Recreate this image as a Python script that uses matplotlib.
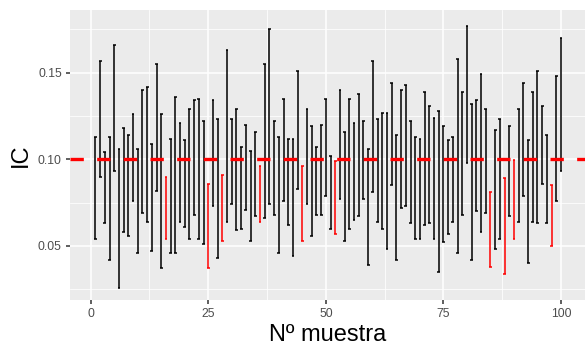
import matplotlib.pyplot as plt
from matplotlib.ticker import MultipleLocator

plt.rcParams['font.family'] = ['Liberation Sans', 'DejaVu Sans']

# Datos: intervalos de confianza de 100 muestras
muestra = list(range(1, 101))
ic_inf = [0.054, 0.090, 0.063, 0.042, 0.093, 0.026, 0.058, 0.056, 0.076, 0.046,
          0.069, 0.064, 0.047, 0.082, 0.037, 0.054, 0.046, 0.046, 0.064, 0.061,
          0.054, 0.068, 0.054, 0.051, 0.037, 0.073, 0.043, 0.053, 0.064, 0.074,
          0.059, 0.060, 0.071, 0.053, 0.067, 0.064, 0.066, 0.074, 0.068, 0.046,
          0.076, 0.062, 0.044, 0.083, 0.053, 0.074, 0.056, 0.068, 0.068, 0.079,
          0.060, 0.057, 0.077, 0.053, 0.060, 0.065, 0.067, 0.077, 0.039, 0.081,
          0.064, 0.060, 0.048, 0.085, 0.042, 0.072, 0.073, 0.063, 0.054, 0.054,
          0.062, 0.063, 0.054, 0.035, 0.052, 0.057, 0.064, 0.046, 0.068, 0.098,
          0.042, 0.070, 0.058, 0.069, 0.038, 0.048, 0.054, 0.034, 0.067, 0.054,
          0.064, 0.079, 0.040, 0.064, 0.063, 0.086, 0.063, 0.050, 0.076, 0.093]
ic_sup = [0.113, 0.157, 0.104, 0.113, 0.166, 0.106, 0.118, 0.114, 0.126, 0.106,
          0.140, 0.142, 0.109, 0.155, 0.126, 0.090, 0.112, 0.136, 0.121, 0.111,
          0.129, 0.134, 0.135, 0.122, 0.086, 0.134, 0.123, 0.091, 0.163, 0.123,
          0.129, 0.107, 0.120, 0.105, 0.116, 0.096, 0.155, 0.175, 0.122, 0.113,
          0.135, 0.112, 0.112, 0.151, 0.096, 0.129, 0.119, 0.107, 0.120, 0.135,
          0.102, 0.099, 0.140, 0.116, 0.135, 0.121, 0.138, 0.122, 0.106, 0.157,
          0.123, 0.127, 0.127, 0.144, 0.114, 0.140, 0.143, 0.122, 0.113, 0.112,
          0.139, 0.131, 0.124, 0.128, 0.119, 0.111, 0.113, 0.158, 0.139, 0.177,
          0.132, 0.134, 0.149, 0.129, 0.081, 0.117, 0.123, 0.089, 0.119, 0.0994,
          0.129, 0.144, 0.111, 0.139, 0.151, 0.131, 0.114, 0.085, 0.148, 0.170]
p = 0.10

fig = plt.figure(figsize=(5.85, 3.45), dpi=100)
ax = fig.add_axes([70/585, 45/345, 515/585, 290/345])
ax.set_facecolor('#EBEBEB')
for s in ax.spines.values():
    s.set_visible(False)

# Rojo si el intervalo no contiene p
colores = ['black' if a <= p <= b else 'red' for a, b in zip(ic_inf, ic_sup)]
izq = [m - 0.3 for m in muestra]
der = [m + 0.3 for m in muestra]
ax.vlines(muestra, ic_inf, ic_sup, colors=colores, linewidth=1.1, zorder=3)
ax.hlines(ic_inf, izq, der, colors=colores, linewidth=1.1, zorder=3)
ax.hlines(ic_sup, izq, der, colors=colores, linewidth=1.1, zorder=3)
ax.axhline(p, color='red', linewidth=2.4, linestyle=(0, (4, 4)), zorder=4)

ax.set_xlim(-4.4, 105.1)
ax.set_ylim(0.0188, 0.1862)
ax.set_xticks([0, 25, 50, 75, 100])
ax.set_yticks([0.05, 0.10, 0.15])
ax.set_yticklabels(['0.05', '0.10', '0.15'])
ax.xaxis.set_minor_locator(MultipleLocator(12.5))
ax.yaxis.set_minor_locator(MultipleLocator(0.025))
ax.grid(which='major', color='white', linewidth=1.1)
ax.grid(which='minor', color='white', linewidth=0.55)
ax.set_axisbelow(True)
ax.tick_params(which='major', length=2.9, width=1.1, color='#333333',
               labelcolor='#4D4D4D', labelsize=8.8, pad=3)
ax.tick_params(which='minor', length=0)

ax.set_xlabel('Nº muestra', fontsize=17, va='baseline')
ax.xaxis.set_label_coords(0.501, -0.141)
ax.set_ylabel('IC', fontsize=17, va='center', ha='center')
ax.yaxis.set_label_coords(-0.095, 0.498)

fig.savefig('out.png', dpi=100)
